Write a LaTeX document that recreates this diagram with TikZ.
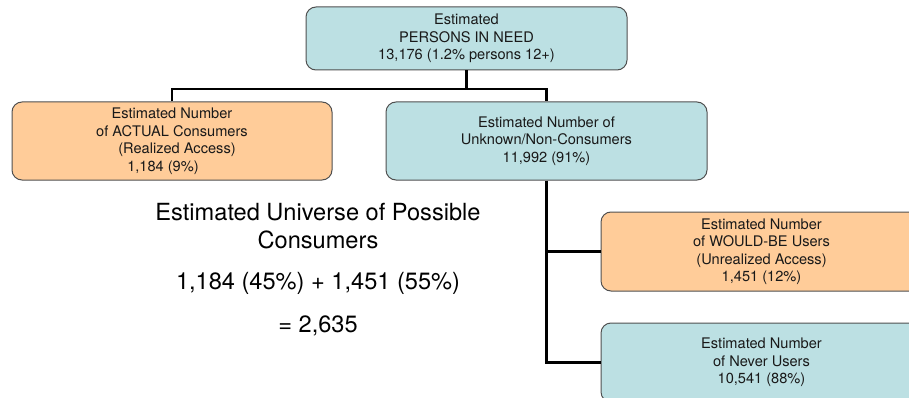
\documentclass[tikz,border=0pt]{standalone}
\usepackage{fontspec}
\setmainfont{TeX Gyre Heros}
\definecolor{boxblue}{RGB}{188,224,227}
\definecolor{boxorange}{RGB}{255,204,153}
\definecolor{edgegray}{RGB}{80,80,80}
\tikzset{
  box/.style={draw=edgegray, line width=1pt, rounded corners=10pt, minimum width=321pt,
    align=center, inner sep=0pt, font={\fontsize{14.6}{17.5}\selectfont}, text=black!90},
  bluebox/.style={box, fill=boxblue},
  orangebox/.style={box, fill=boxorange},
  conn/.style={line width=2.6pt, draw=black},
  bigtext/.style={align=center, font={\fontsize{23.6}{28}\selectfont}, inner sep=0pt}
}
\begin{document}
\begin{tikzpicture}[x=1pt,y=-1pt]
\useasboundingbox (0,0) rectangle (909,398);
\clip (0,0) rectangle (909,398);
\node[bluebox, minimum height=63pt] (top) at (466.5,38.5) {Estimated\\PERSONS IN NEED\\13,176 (1.2\% persons 12+)};
\node[orangebox, minimum width=320pt, minimum height=78pt] (actual) at (172,141) {Estimated Number\\of ACTUAL Consumers\\\hspace*{10pt}(Realized Access)\\1,184 (9\%)\hspace*{18pt}};
\node[bluebox, minimum height=78pt] (unknown) at (546.5,141) {Estimated Number of\\Unknown/Non-Consumers\\11,992 (91\%)};
\node[orangebox, minimum height=79pt] (would) at (761.5,251.5) {Estimated Number\\of WOULD-BE Users\\(Unrealized Access)\\1,451 (12\%)};
\node[bluebox, minimum height=79pt] (never) at (761.5,362.5) {Estimated Number\\of Never Users\\10,541 (88\%)};
\coordinate (j1) at (466.5,89);
\draw[conn] (top.south) -- (j1);
\draw[conn] (actual.north) |- (j1) -| (unknown.north);
\draw[conn] (unknown.south) |- (never.west);
\draw[conn] (unknown.south |- would.west) -- (would.west);
\node[bigtext] (univ) at (318,226) {Estimated Universe of Possible\\Consumers};
\node[bigtext] (sum) at (318,283) {1,184 (45\%) + 1,451 (55\%)};
\node[bigtext] (total) at (318,326) {= 2,635};
\end{tikzpicture}
\end{document}
